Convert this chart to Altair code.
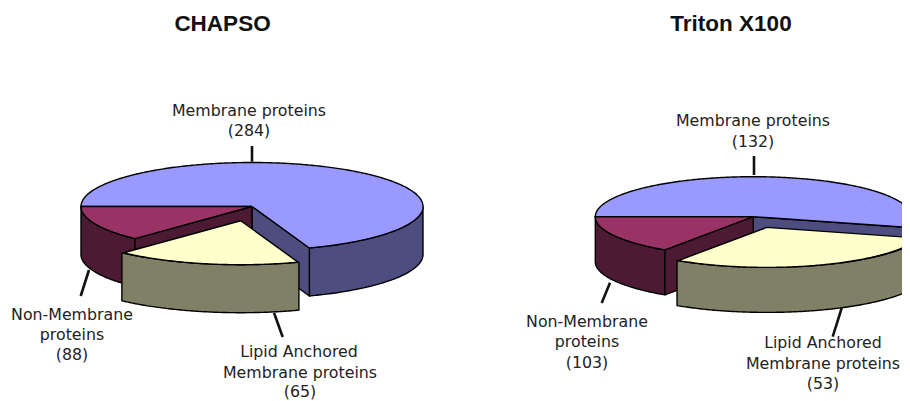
import altair as alt
import numpy as np
import pandas as pd

# --- values -------------------------------------------------------------
titles = ["CHAPSO", "Triton X100"]
membrane = [284, 132]
non_membrane = [88, 103]
lipid = [65, 53]

# --- picture geometry ---------------------------------------------------
centers = [(252.0, 206.5), (753.3, 216.7)]
radii = [(171.0, 44.0), (158.0, 40.0)]
depths = [48.0, 45.0]
explode = [(-11.3, 14.2), (13.4, 10.7)]
cut_mem_lip = [70.4, 15.4]     # drawn ellipse angle of the Membrane/Lipid cut
cut_lip_non = [133.2, 124.0]   # drawn ellipse angle of the Lipid/Non-Membrane cut
title_pos = [(222.5, 24), (731, 24)]

BLUE, BLUE_D = "#9999FF", "#4D4D80"
RED, RED_D = "#993366", "#4D1A33"
YEL, YEL_D = "#FFFFCC", "#808066"

FONT = "DejaVu Sans"
W, H = 894, 393
xs = alt.Scale(domain=[8, 902], range=[0, W], nice=False, zero=False)
ys = alt.Scale(domain=[8, 401], range=[0, H], nice=False, zero=False)


def arc(c, r, a, b, dy=0.0, grow=1.0):
    t = np.radians(np.linspace(a, b, max(3, int(abs(b - a) * 1.5))))
    return list(zip(c[0] + r[0] * grow * np.cos(t), c[1] + dy + r[1] * np.sin(t)))


def poly(points, fill, width=1.4):
    pts = list(points) + [points[0]]
    df = pd.DataFrame({"x": [p[0] for p in pts], "y": [p[1] for p in pts], "o": range(len(pts))})
    return alt.Chart(df).mark_line(
        fill=fill, stroke="#000000", strokeWidth=width, clip=True, strokeJoin="round"
    ).encode(
        x=alt.X("x:Q", scale=xs, axis=None),
        y=alt.Y("y:Q", scale=ys, axis=None),
        order="o:Q",
    )


def wall(c, r, d, a, b, fill, grow=1.0):
    top = arc(c, r, a, b, 0, grow)
    bot = arc(c, r, b, a, d, grow)
    return poly(top + bot, fill)


def face(c, tip, d, fill):
    return poly([c, tip, (tip[0], tip[1] + d), (c[0], c[1] + d)], fill)


layers = []
for i in range(2):
    c, r, d = centers[i], radii[i], depths[i]
    a1, a2 = cut_mem_lip[i], cut_lip_non[i]
    tip1 = arc(c, r, a1, a1)[0]
    tip2 = arc(c, r, a2, a2)[0]
    layers += [
        wall(c, r, d, 0, a1, BLUE_D),
        face(c, tip1, d, BLUE_D),
        wall(c, r, d, a2, 180, RED_D),
        face(c, tip2, d, RED_D),
        poly([c] + arc(c, r, 180, 360 + a1), BLUE),
        poly([c] + arc(c, r, a2, 180), RED),
    ]
    c2 = (c[0] + explode[i][0], c[1] + explode[i][1])
    layers += [
        wall(c2, r, d, a1, a2, YEL_D, 1.015),
        poly([c2] + arc(c2, r, a1, a2), YEL),
    ]

# leader lines
leaders = pd.DataFrame({
    "x": [252, 89, 274, 754, 610, 841.7],
    "y": [146, 270, 312.7, 156, 282.7, 308],
    "x2": [252, 80.7, 282.7, 754, 601.7, 832.7],
    "y2": [161.7, 296, 337, 175, 303, 336.7],
})
layers.append(
    alt.Chart(leaders).mark_rule(color="#111111", strokeWidth=2.6).encode(
        x=alt.X("x:Q", scale=xs, axis=None), y=alt.Y("y:Q", scale=ys, axis=None), x2="x2:Q", y2="y2:Q"
    )
)

# labels
texts = [
    ("Membrane proteins", 249, 111), (f"({membrane[0]})", 249, 131),
    ("Non-Membrane", 72, 315), ("proteins", 72, 335), (f"({non_membrane[0]})", 72, 355),
    ("Lipid Anchored", 299, 352), ("Membrane proteins", 300, 372.5), (f"({lipid[0]})", 300, 392),
    ("Membrane proteins", 753, 121), (f"({membrane[1]})", 753, 141.5),
    ("Non-Membrane", 587, 321.5), ("proteins", 587, 341.5), (f"({non_membrane[1]})", 587, 362.5),
    ("Lipid Anchored", 823, 343), ("Membrane proteins", 823, 363.5), (f"({lipid[1]})", 823, 384),
]
tdf = pd.DataFrame(texts, columns=["t", "x", "y"])
layers.append(
    alt.Chart(tdf).mark_text(font=FONT, fontSize=15.8, color="#222222", align="center", baseline="middle").encode(
        x=alt.X("x:Q", scale=xs, axis=None), y=alt.Y("y:Q", scale=ys, axis=None), text="t:N"
    )
)
hdf = pd.DataFrame({"t": titles, "x": [p[0] for p in title_pos], "y": [p[1] for p in title_pos]})
layers.append(
    alt.Chart(hdf).mark_text(font="Liberation Sans", fontWeight="bold", fontSize=22.5, color="#111111",
                             align="center", baseline="middle").encode(
        x=alt.X("x:Q", scale=xs, axis=None), y=alt.Y("y:Q", scale=ys, axis=None), text="t:N"
    )
)

chart = alt.layer(*layers).properties(
    width=W, height=H, padding=0, autosize=alt.AutoSizeParams(type="none")
).configure_view(stroke=None)

chart.save("out.html", embed_options={"renderer": "svg", "actions": False})
